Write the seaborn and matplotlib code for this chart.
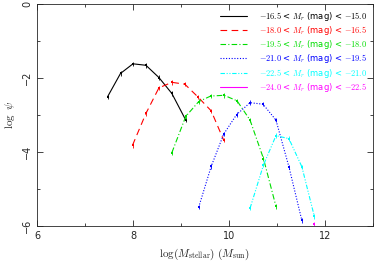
import matplotlib
matplotlib.use("Agg")
import matplotlib.pyplot as plt
from matplotlib.lines import Line2D
import seaborn as sns
import pandas as pd

# bins in absolute r-band magnitude
labels = [r"$-16.5$ < $M_r$ (mag) < $-15.0$",
          r"$-18.0$ < $M_r$ (mag) < $-16.5$",
          r"$-19.5$ < $M_r$ (mag) < $-18.0$",
          r"$-21.0$ < $M_r$ (mag) < $-19.5$",
          r"$-22.5$ < $M_r$ (mag) < $-21.0$",
          r"$-24.0$ < $M_r$ (mag) < $-22.5$"]
colors = ["black", "red", "#00dd00", "blue", "cyan", "magenta"]
styles = ["-", (0, (6, 4)), (0, (5, 2, 1, 2)), (0, (1, 1.5)), (0, (4, 1.5, 1, 1.5, 1, 1.5)), "-"]

x_m16 = [7.47, 7.74, 8.00, 8.27, 8.54, 8.81, 9.10]
y_m16 = [-2.51, -1.88, -1.62, -1.66, -1.99, -2.42, -3.14]
x_m18 = [7.99, 8.27, 8.54, 8.81, 9.08, 9.35, 9.63, 9.89]
y_m18 = [-3.82, -2.96, -2.27, -2.12, -2.17, -2.51, -2.89, -3.68]
x_m19 = [8.81, 9.10, 9.37, 9.62, 9.90, 10.17, 10.44, 10.72, 10.98]
y_m19 = [-4.02, -3.04, -2.64, -2.49, -2.47, -2.62, -3.14, -4.18, -5.47]
x_m21 = [9.37, 9.63, 9.89, 10.16, 10.44, 10.71, 10.98, 11.25, 11.52]
y_m21 = [-5.49, -4.39, -3.52, -2.99, -2.67, -2.71, -3.14, -4.40, -5.85]
x_m22 = [10.44, 10.72, 10.98, 11.25, 11.52, 11.78]
y_m22 = [-5.52, -4.35, -3.56, -3.64, -4.40, -5.74]
x_m24 = [11.78]
y_m24 = [-5.94]

xs = [x_m16, x_m18, x_m19, x_m21, x_m22, x_m24]
ys = [y_m16, y_m18, y_m19, y_m21, y_m22, y_m24]

sns.set_style("ticks")
plt.rcParams['font.family'] = ['DejaVu Sans']
plt.rcParams['mathtext.fontset'] = 'cm'

fig = plt.figure(figsize=(3.74, 2.72), dpi=100)
ax = fig.add_axes([0.099, 0.169, 0.898, 0.817])

handles = []
for xv, yv, c, ls, lab in zip(xs, ys, colors, styles, labels):
    df = pd.DataFrame({"x": xv, "y": yv})
    sns.lineplot(data=df, x="x", y="y", ax=ax, color=c, linestyle=ls,
                 linewidth=0.8, marker="s", markersize=2, markeredgewidth=0)
    ax.errorbar(xv, yv, yerr=0.06, fmt="none", ecolor=c, elinewidth=0.6)
    handles.append(Line2D([], [], color=c, linestyle=ls, linewidth=0.8, label=lab))

ax.set_xlim(6, 13)
ax.set_ylim(-6, 0)
ax.set_xticks([6, 8, 10, 12])
ax.set_xticks([7, 9, 11, 13], minor=True)
ax.set_yticks([-6, -4, -2, 0])
ax.set_yticks([-5, -3, -1], minor=True)
ax.tick_params(which="both", direction="in", top=True, right=True, labelsize=7, width=0.6)
ax.tick_params(which="major", length=4)
ax.tick_params(which="minor", length=2)
for lbl in ax.get_yticklabels():
    lbl.set_rotation(90)
    lbl.set_va("center")
for s in ax.spines.values():
    s.set_linewidth(0.6)

ax.set_xlabel(r"$\log(M_{\rm stellar})\ (M_{\rm sun})$", fontsize=8)
ax.set_ylabel(r"$\log\ \psi$", fontsize=8)

leg = ax.legend(handles=handles, loc="upper right", frameon=False, fontsize=6,
                handlelength=3.2, borderaxespad=0.3, labelspacing=0.15, handletextpad=1.5)
for txt, c in zip(leg.get_texts(), colors):
    txt.set_color(c)

fig.savefig("out.png", dpi=100)
